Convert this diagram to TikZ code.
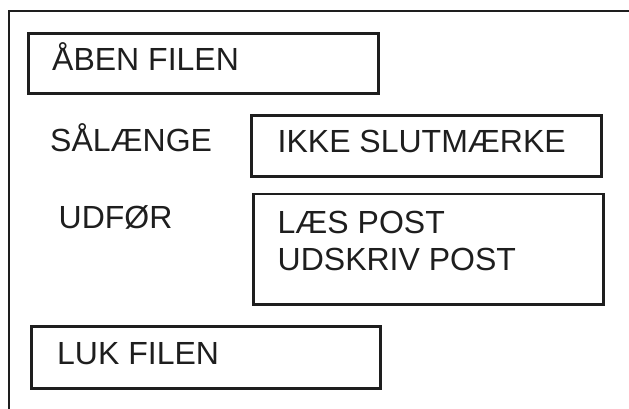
\documentclass[tikz,border=0pt]{standalone}
\usepackage{fontspec}
\setmainfont{Liberation Sans}
\definecolor{ink}{RGB}{30,30,30}
\begin{document}
\begin{tikzpicture}[x=1pt,y=-1pt,
  box/.style={draw=ink, line width=2.6pt, inner sep=0pt, anchor=north west},
  lbl/.style={font=\fontsize{32}{33}\selectfont, text=ink, inner sep=0pt, anchor=base west},
  frameline/.style={draw=ink, line width=2.2pt}]
\useasboundingbox (0,0) rectangle (629,409);
% outer frame (open at right and bottom)
\coordinate (fbl) at (8.8,409);
\coordinate (ftl) at (8.8,11);
\coordinate (ftr) at (629,11);
\draw[frameline] (fbl) -- (ftl) -- (ftr);
% boxes
\node[box, minimum width=350pt, minimum height=60pt] (b1) at (27,32) {};
\node[box, minimum width=350pt, minimum height=60.5pt] (b2) at (250,114.5) {};
\node[box, minimum width=350pt, minimum height=110.5pt] (b3) at (252,192.5) {};
\node[box, minimum width=349pt, minimum height=62pt] (b4) at (30,325) {};
% texts
\node[lbl] (t1) at (52,71) {ÅBEN FILEN};
\node[lbl] (t2) at (50,151) {SÅLÆNGE};
\node[lbl] (t3) at (277.5,153) {IKKE SLUTMÆRKE};
\node[lbl] (t4) at (58.5,228) {UDFØR};
\node[lbl] (t5) at (277.5,233) {LÆS POST};
\node[lbl] (t6) at (277.5,270) {UDSKRIV POST};
\node[lbl] (t7) at (57,364) {LUK FILEN};
\end{tikzpicture}
\end{document}
